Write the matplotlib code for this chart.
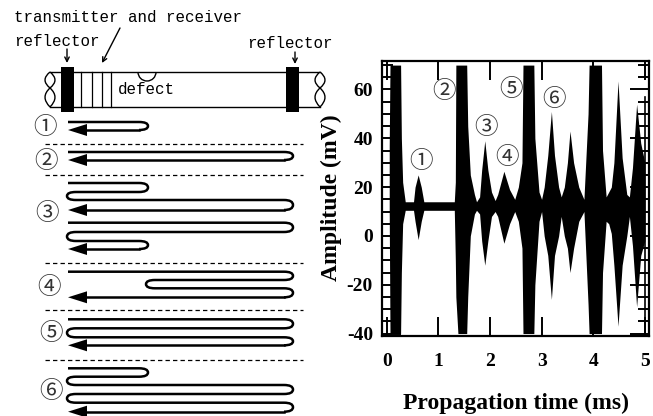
import matplotlib
matplotlib.use("Agg")
import matplotlib.pyplot as plt
from matplotlib.path import Path
from matplotlib.patches import PathPatch, Polygon, Rectangle, Arc

plt.rcParams['axes.unicode_minus'] = False
W, H = 653, 416
SERIF = 'Liberation Serif'
MONO = 'Liberation Mono'
CJK = 'Noto Sans CJK JP'

# ---------- waveform envelope (ms, mV) ----------
time_ms = [.05,.065,.27,.285,.31,.36,.52,.55,.61,.67,.72,1.31,1.33,1.34,1.38,1.55,1.57,1.62,1.70,1.74,
           1.80,1.84,1.90,1.96,2.03,2.10,2.15,2.27,2.38,2.48,2.55,2.62,2.64,2.85,2.87,2.95,
           3.0,3.05,3.12,3.19,3.25,3.33,3.38,3.44,3.50,3.55,3.62,3.72,3.82,3.90,3.92,4.16,4.18,4.25,4.30,
           4.35,4.40,4.48,4.56,4.65,4.70,4.76,4.84,4.92,5.0]
upper_mv = [37,70,70,40,22,14,14,20,25,20,14,14,22,70,70,70,45,25,17,14,
            16,27,39,27,18,14.5,17,26.5,19,15,20,30,70,70,40,18,
            15,20,33,51,33,20,16,20,30,43,30,20,15,50,70,70,35,16,18,
            20,30,63.5,32,17,16,28,54,38,30]
lower_mv = [10,-40,-40,-15,5,10.5,10.5,6,-1.5,6,10.5,10.5,-10,-25,-40,-40,-25,0,9,10.5,
            9,-2,-12,-2,8,10,8,-3,5,10,6,-5,-40,-40,-20,6,
            10,0,-8,-26,-8,0,8,0,-5,-15,-5,6,10,-28,-40,-40,-15,6,5,
            1,-12,-37,-12,0,8,-4,-29,-8,-2]
x_ticks = [0, 1, 2, 3, 4, 5]
y_ticks = [-40, -20, 0, 20, 40, 60]
y_minor = [-35, -30, -25, -15, -10, -5, 5, 10, 15, 25, 30, 35, 45, 50, 55, 65, 70]
x_label = 'Propagation time (ms)'
y_label = 'Amplitude (mV)'
chart_marks = [('①', 421, 161), ('②', 444, 91), ('③', 486, 127),
               ('④', 507, 158), ('⑤', 511, 90), ('⑥', 554, 99)]

# ---------- ray diagram (pixels of the schematic) ----------
L, R, D = 68, 292, 147     # left end, far reflector, defect
rays = [
    [(L, 122), (D, 130)],
    [(L, 152), (R, 160)],
    [(L, 183), (D, 192), (L, 200), (R, 210)],
    [(L, 222.7), (R, 232), (L, 241), (D, 249)],
    [(L, 271.7), (R, 280), (D, 288.3), (R, 297.3)],
    [(L, 319.3), (R, 328.3), (L, 337.3), (R, 345.3)],
    [(L, 368.3), (D, 376.7), (L, 385), (R, 394), (L, 402.7), (R, 411.7)],
]
dash_y = [143.5, 175, 262.7, 310.3, 359.7]
diagram_marks = [('①', 45, 127), ('②', 46, 161), ('③', 47, 214),
                 ('④', 49, 288), ('⑤', 51, 334), ('⑥', 51, 392)]
transducer_x = [81, 92, 102, 111]

fig = plt.figure(figsize=(W/100, H/100), dpi=100, facecolor='white')

# waveform
ax = fig.add_axes([382/W, 1-336/H, (649-382)/W, (336-60.7)/H])
ax.fill_between(time_ms, lower_mv, upper_mv, color='black', lw=0)
ax.set_xlim(-0.09, 5.08)
ax.set_ylim(-41, 71.8)
ax.set_xticks(x_ticks)
ax.set_yticks(y_ticks)
ax.set_yticks(y_minor, minor=True)
ax.tick_params(axis='x', which='major', direction='in', top=True,
               length=13.5, width=1.4, labelsize=14, pad=12)
ax.tick_params(axis='y', which='major', direction='in', right=True,
               length=13.5, width=1.4, labelsize=14, pad=6.5)
ax.tick_params(axis='y', which='minor', direction='in', left=True, right=True,
               length=8, width=1.4)
for lab in ax.get_xticklabels() + ax.get_yticklabels():
    lab.set_fontfamily(SERIF)
    lab.set_fontweight('bold')
for s in ax.spines.values():
    s.set_linewidth(1.6)
ax.plot([5, 5], [-41, 57], color='black', lw=1.2)

# overlay in pixel coordinates
ov = fig.add_axes([0, 0, 1, 1], facecolor='none')
ov.set_xlim(0, W)
ov.set_ylim(H, 0)
ov.axis('off')

ov.text(516, 403, x_label, family=SERIF, weight='bold', fontsize=17, ha='center', va='center')
ov.text(331, 198, y_label, family=SERIF, weight='bold', fontsize=17, rotation=90, ha='center', va='center')

for lab, x, y in chart_marks + diagram_marks:
    ov.text(x, y, lab, family=CJK, fontsize=17, color='#333333', ha='center', va='center')

# pipe
for y in (71.7, 106.7):
    ov.plot([50, 320], [y, y], color='black', lw=1)
Q = [Path.MOVETO, Path.CURVE3, Path.CURVE3, Path.CURVE3, Path.CURVE3]
for x0 in (50, 320):
    for s in (-1, 1):
        ov.add_patch(PathPatch(Path([(x0, 72), (x0+s*10, 80), (x0, 88), (x0-s*10, 97), (x0, 107)], Q),
                               fc='white', ec='black', lw=1, zorder=2))
ov.add_patch(Rectangle((60.7, 67), 13.3, 45, color='black', lw=0, zorder=3))
ov.add_patch(Rectangle((286, 67), 13, 45, color='black', lw=0, zorder=3))
for x in transducer_x:
    ov.plot([x, x], [71.7, 106.7], color='black', lw=0.9)
ov.add_patch(Arc((147, 72), 18, 18, theta1=0, theta2=180, color='black', lw=1))

ov.text(14, 17, 'transmitter and receiver', family=MONO, fontsize=11.4, va='center')
ov.text(14, 42, 'reflector', family=MONO, fontsize=11.4, va='center')
ov.text(247, 43, 'reflector', family=MONO, fontsize=11.4, va='center')
ov.text(118, 89, 'defect', family=MONO, fontsize=11.4, va='center')
for a, b in (((67, 49), (67, 63)), ((295, 52), (295, 64)), ((120, 28), (102, 63))):
    ov.annotate('', xy=b, xytext=a, arrowprops=dict(arrowstyle='->', lw=1, color='black',
                                                    mutation_scale=8, shrinkA=0, shrinkB=0))

for y in dash_y:
    ov.plot([45, 303], [y, y], color='black', lw=0.9, dashes=(3.5, 2.5))


def ray_path(legs):
    """Serpentine ray: start level, then a rounded turn at each turn x to the next level."""
    verts = [(L, legs[0][1])]
    codes = [Path.MOVETO]
    x_cur = L
    for i in range(1, len(legs)):
        tx, y1 = legs[i]
        y0 = legs[i-1][1]
        dirn = 1 if tx > x_cur else -1
        mid = (y0 + y1) / 2
        verts += [(tx - dirn*8, y0), (tx + dirn*1, y0), (tx + dirn*1, mid),
                  (tx + dirn*1, y1), (tx - dirn*8, y1)]
        codes += [Path.LINETO, Path.CURVE3, Path.CURVE3, Path.CURVE3, Path.CURVE3]
        x_cur = tx
    return verts, codes


for legs in rays:
    verts, codes = ray_path(legs)
    ov.add_patch(PathPatch(Path(verts, codes), fc='none', ec='black', lw=1.8))
    end_y = legs[-1][1]
    ov.plot([verts[-1][0], L + 12], [end_y, end_y], color='black', lw=1.8)
    ov.add_patch(Polygon([(L, end_y), (L+19, end_y-6), (L+19, end_y+6)], color='black', lw=0))

fig.savefig('out.png', dpi=100)
